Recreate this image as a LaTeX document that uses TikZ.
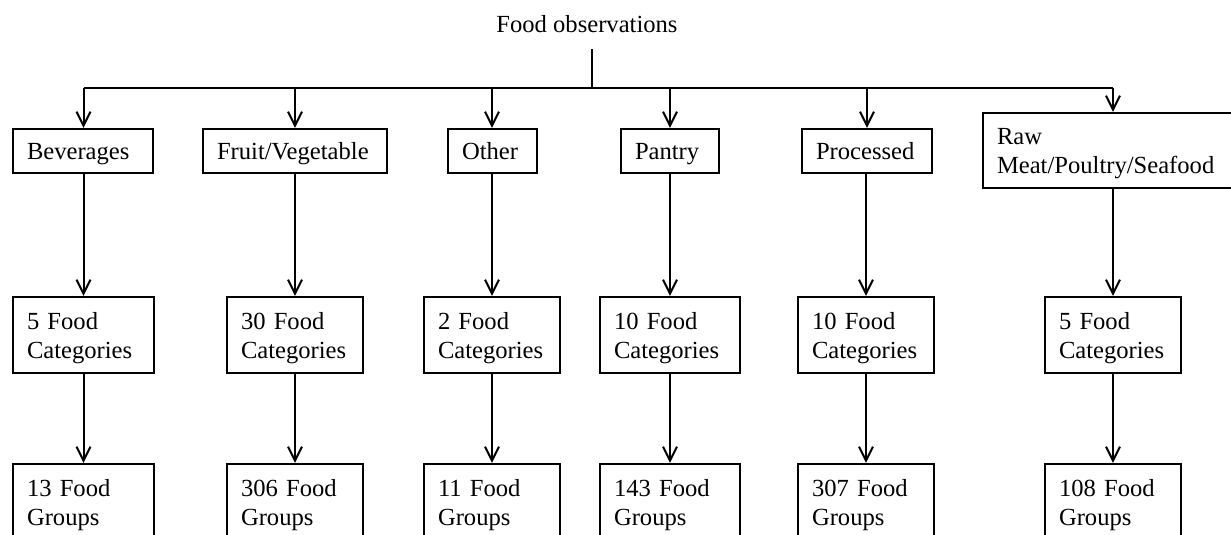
\documentclass[tikz,border=0pt]{standalone}
\usepackage{fontspec}
\setmainfont{Liberation Serif}
\usetikzlibrary{arrows.meta}

\begin{document}
\begin{tikzpicture}[x=0.5pt, y=-0.5pt]

          \tikzstyle{label} = [font=\fontsize{12.3pt}{14.5pt}\selectfont];
          \tikzstyle{box} = [label, draw, line width=1.1pt, align=left, inner xsep=7pt, inner ysep=0pt];
          \tikzstyle{topBox} = [box, minimum height=22pt, text height=9.5pt, text depth=1.5pt];
          \tikzstyle{tallBox} = [box, execute at begin node={\rule{0pt}{11.5pt}}];
          \tikzstyle{countBox} = [tallBox, minimum height=38pt];

          \tikzstyle{normalEdge} = [line width=1pt];
          \tikzstyle{stemEdge} = [line width=1.4pt];
          \tikzstyle{arrowEdge} = [line width=1pt, -{Straight Barb[length=7pt, width=7pt]}];

          \useasboundingbox (0,0) rectangle (1231,535);

          \node[label, anchor=base] (obs) at (587,33) {Food observations};
          \coordinate (hub) at (592,88);

          \node[topBox, text width=56pt] (bev) at (83,151) {Beverages};
          \node[topBox, text width=78pt] (fruit) at (295,151) {Fruit/Vegetable};
          \node[topBox, text width=30.5pt] (other) at (492.5,151) {Other};
          \node[topBox, text width=35pt] (pantry) at (670,151) {Pantry};
          \node[topBox, text width=51pt] (proc) at (867,151) {Processed};
          \node[tallBox, text width=114pt, minimum height=37.5pt] (raw) at (1111,150.5) {Raw\\Meat/Poultry/Seafood};

          \node[countBox, text width=56.5pt] (bevcat) at (83.5,335) {5 Food\\Categories};
          \node[countBox, text width=54pt] (fruitcat) at (295,335) {30 Food\\Categories};
          \node[countBox, text width=54pt] (othercat) at (492,335) {2 Food\\Categories};
          \node[countBox, text width=56pt] (pantrycat) at (670,335) {10 Food\\Categories};
          \node[countBox, text width=54pt] (proccat) at (866,335) {10 Food\\Categories};
          \node[countBox, text width=54pt] (rawcat) at (1113,335) {5 Food\\Categories};

          \node[countBox, text width=56.5pt] (bevgrp) at (83.5,502) {13 Food\\Groups};
          \node[countBox, text width=54pt] (fruitgrp) at (295,502) {306 Food\\Groups};
          \node[countBox, text width=54pt] (othergrp) at (492,502) {11 Food\\Groups};
          \node[countBox, text width=56pt] (pantrygrp) at (670,502) {143 Food\\Groups};
          \node[countBox, text width=54pt] (procgrp) at (866,502) {307 Food\\Groups};
          \node[countBox, text width=54pt] (rawgrp) at (1113,502) {108 Food\\Groups};

          \draw[stemEdge] ([yshift=-4.5pt]obs.south -| hub) -- (hub);
          \draw[normalEdge] (bevcat.north |- hub) -- (rawcat.north |- hub);

          \draw[arrowEdge] (bevcat.north |- hub) -- (bevcat.north |- bev.north);
          \draw[arrowEdge] (fruit.north |- hub) -- (fruit.north);
          \draw[arrowEdge] (othercat.north |- hub) -- (othercat.north |- other.north);
          \draw[arrowEdge] (pantrycat.north |- hub) -- (pantrycat.north |- pantry.north);
          \draw[arrowEdge] (proc.north |- hub) -- (proc.north);
          \draw[arrowEdge] (rawcat.north |- hub) -- (rawcat.north |- raw.north);

          \draw[arrowEdge] (bevcat.north |- bev.south) -- (bevcat.north);
          \draw[arrowEdge] (fruit.south) -- (fruitcat.north);
          \draw[arrowEdge] (othercat.north |- other.south) -- (othercat.north);
          \draw[arrowEdge] (pantrycat.north |- pantry.south) -- (pantrycat.north);
          \draw[arrowEdge] (proccat.north |- proc.south) -- (proccat.north);
          \draw[arrowEdge] (rawcat.north |- raw.south) -- (rawcat.north);

          \draw[arrowEdge] (bevcat.south) -- (bevgrp.north);
          \draw[arrowEdge] (fruitcat.south) -- (fruitgrp.north);
          \draw[arrowEdge] (othercat.south) -- (othergrp.north);
          \draw[arrowEdge] (pantrycat.south) -- (pantrygrp.north);
          \draw[arrowEdge] (proccat.south) -- (procgrp.north);
          \draw[arrowEdge] (rawcat.south) -- (rawgrp.north);
        \end{tikzpicture}
\end{document}
